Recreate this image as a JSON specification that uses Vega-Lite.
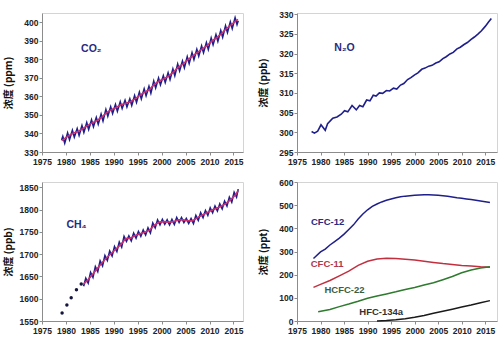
{
  "$schema": "https://vega.github.io/schema/vega-lite/v6.json",
  "background": "white",
  "padding": {"left": 2, "top": 9, "right": 0, "bottom": 0},
  "columns": 2,
  "spacing": {"row": 11, "column": 13},
  "datasets": {
    "co2_raw": [
      {"year": 1979.1, "ppm": 336.5},
      {"year": 1979.35, "ppm": 338.4}, {"year": 1979.75, "ppm": 334.8},
      {"year": 1980.35, "ppm": 340.3}, {"year": 1980.75, "ppm": 336.7},
      {"year": 1981.35, "ppm": 341.7}, {"year": 1981.75, "ppm": 338.1},
      {"year": 1982.35, "ppm": 342.6}, {"year": 1982.75, "ppm": 339.0},
      {"year": 1983.35, "ppm": 344.2}, {"year": 1983.75, "ppm": 340.6},
      {"year": 1984.35, "ppm": 345.8}, {"year": 1984.75, "ppm": 342.2},
      {"year": 1985.35, "ppm": 347.3}, {"year": 1985.75, "ppm": 343.7},
      {"year": 1986.35, "ppm": 348.6}, {"year": 1986.75, "ppm": 345.0},
      {"year": 1987.35, "ppm": 350.4}, {"year": 1987.75, "ppm": 346.8},
      {"year": 1988.35, "ppm": 352.9}, {"year": 1988.75, "ppm": 349.3},
      {"year": 1989.35, "ppm": 354.4}, {"year": 1989.75, "ppm": 350.8},
      {"year": 1990.35, "ppm": 355.6}, {"year": 1990.75, "ppm": 352.0},
      {"year": 1991.35, "ppm": 357.1}, {"year": 1991.75, "ppm": 353.5},
      {"year": 1992.35, "ppm": 357.9}, {"year": 1992.75, "ppm": 354.3},
      {"year": 1993.35, "ppm": 358.7}, {"year": 1993.75, "ppm": 355.1},
      {"year": 1994.35, "ppm": 360.4}, {"year": 1994.75, "ppm": 356.8},
      {"year": 1995.35, "ppm": 362.3}, {"year": 1995.75, "ppm": 358.7},
      {"year": 1996.35, "ppm": 364.0}, {"year": 1996.75, "ppm": 360.4},
      {"year": 1997.35, "ppm": 365.4}, {"year": 1997.75, "ppm": 361.8},
      {"year": 1998.35, "ppm": 368.2}, {"year": 1998.75, "ppm": 364.6},
      {"year": 1999.35, "ppm": 369.9}, {"year": 1999.75, "ppm": 366.3},
      {"year": 2000.35, "ppm": 371.1}, {"year": 2000.75, "ppm": 367.5},
      {"year": 2001.35, "ppm": 372.7}, {"year": 2001.75, "ppm": 369.1},
      {"year": 2002.35, "ppm": 374.8}, {"year": 2002.75, "ppm": 371.2},
      {"year": 2003.35, "ppm": 377.4}, {"year": 2003.75, "ppm": 373.8},
      {"year": 2004.35, "ppm": 379.1}, {"year": 2004.75, "ppm": 375.5},
      {"year": 2005.35, "ppm": 381.4}, {"year": 2005.75, "ppm": 377.8},
      {"year": 2006.35, "ppm": 383.5}, {"year": 2006.75, "ppm": 379.9},
      {"year": 2007.35, "ppm": 385.4}, {"year": 2007.75, "ppm": 381.8},
      {"year": 2008.35, "ppm": 387.2}, {"year": 2008.75, "ppm": 383.6},
      {"year": 2009.35, "ppm": 389.0}, {"year": 2009.75, "ppm": 385.4},
      {"year": 2010.35, "ppm": 391.5}, {"year": 2010.75, "ppm": 387.9},
      {"year": 2011.35, "ppm": 393.3}, {"year": 2011.75, "ppm": 389.7},
      {"year": 2012.35, "ppm": 395.5}, {"year": 2012.75, "ppm": 391.9},
      {"year": 2013.35, "ppm": 398.1}, {"year": 2013.75, "ppm": 394.5},
      {"year": 2014.35, "ppm": 400.2}, {"year": 2014.75, "ppm": 396.6},
      {"year": 2015.35, "ppm": 402.4}, {"year": 2015.75, "ppm": 398.8},
      {"year": 2016.0, "ppm": 400.8}
    ],
    "co2_trend": [
      {"year": 1979.1, "ppm": 336.2}, {"year": 1979.5, "ppm": 336.8}, {"year": 1980.5, "ppm": 338.7},
      {"year": 1981.5, "ppm": 340.1}, {"year": 1982.5, "ppm": 341.0}, {"year": 1983.5, "ppm": 342.6},
      {"year": 1984.5, "ppm": 344.2}, {"year": 1985.5, "ppm": 345.7}, {"year": 1986.5, "ppm": 347.0},
      {"year": 1987.5, "ppm": 348.8}, {"year": 1988.5, "ppm": 351.3}, {"year": 1989.5, "ppm": 352.8},
      {"year": 1990.5, "ppm": 354.0}, {"year": 1991.5, "ppm": 355.5}, {"year": 1992.5, "ppm": 356.3},
      {"year": 1993.5, "ppm": 357.1}, {"year": 1994.5, "ppm": 358.8}, {"year": 1995.5, "ppm": 360.7},
      {"year": 1996.5, "ppm": 362.4}, {"year": 1997.5, "ppm": 363.8}, {"year": 1998.5, "ppm": 366.6},
      {"year": 1999.5, "ppm": 368.3}, {"year": 2000.5, "ppm": 369.5}, {"year": 2001.5, "ppm": 371.1},
      {"year": 2002.5, "ppm": 373.2}, {"year": 2003.5, "ppm": 375.8}, {"year": 2004.5, "ppm": 377.5},
      {"year": 2005.5, "ppm": 379.8}, {"year": 2006.5, "ppm": 381.9}, {"year": 2007.5, "ppm": 383.8},
      {"year": 2008.5, "ppm": 385.6}, {"year": 2009.5, "ppm": 387.4}, {"year": 2010.5, "ppm": 389.9},
      {"year": 2011.5, "ppm": 391.7}, {"year": 2012.5, "ppm": 393.9}, {"year": 2013.5, "ppm": 396.5},
      {"year": 2014.5, "ppm": 398.6}, {"year": 2015.5, "ppm": 400.8}, {"year": 2015.95, "ppm": 401.6}
    ],
    "n2o": [
      {"year": 1978.1, "ppb": 300.2}, {"year": 1978.7, "ppb": 299.8}, {"year": 1979.4, "ppb": 300.3},
      {"year": 1980.1, "ppb": 301.9}, {"year": 1981.0, "ppb": 300.5}, {"year": 1981.5, "ppb": 302.2},
      {"year": 1982.6, "ppb": 303.6}, {"year": 1983.5, "ppb": 303.9}, {"year": 1984.4, "ppb": 304.6},
      {"year": 1985.1, "ppb": 305.5}, {"year": 1985.8, "ppb": 305.2}, {"year": 1986.7, "ppb": 306.8},
      {"year": 1987.6, "ppb": 305.7}, {"year": 1988.3, "ppb": 306.8}, {"year": 1989.0, "ppb": 306.5},
      {"year": 1989.8, "ppb": 308.2}, {"year": 1990.5, "ppb": 308.0}, {"year": 1991.2, "ppb": 309.4},
      {"year": 1991.8, "ppb": 309.2}, {"year": 1992.5, "ppb": 310.0}, {"year": 1993.2, "ppb": 309.9},
      {"year": 1994.0, "ppb": 310.6}, {"year": 1994.7, "ppb": 310.5}, {"year": 1995.5, "ppb": 311.2},
      {"year": 1996.2, "ppb": 311.0}, {"year": 1997.0, "ppb": 312.0}, {"year": 1997.7, "ppb": 312.4},
      {"year": 1998.5, "ppb": 313.4}, {"year": 1999.2, "ppb": 313.9}, {"year": 2000.0, "ppb": 314.6},
      {"year": 2000.7, "ppb": 315.1}, {"year": 2001.5, "ppb": 316.0}, {"year": 2002.2, "ppb": 316.3},
      {"year": 2003.0, "ppb": 316.8}, {"year": 2003.7, "ppb": 317.0}, {"year": 2004.5, "ppb": 317.6},
      {"year": 2005.2, "ppb": 317.9}, {"year": 2006.0, "ppb": 318.7}, {"year": 2006.7, "ppb": 319.2},
      {"year": 2007.5, "ppb": 319.9}, {"year": 2008.2, "ppb": 320.3}, {"year": 2009.0, "ppb": 321.2},
      {"year": 2009.7, "ppb": 321.6}, {"year": 2010.5, "ppb": 322.3}, {"year": 2011.2, "ppb": 322.8},
      {"year": 2012.0, "ppb": 323.6}, {"year": 2012.7, "ppb": 324.2}, {"year": 2013.5, "ppb": 325.0},
      {"year": 2014.2, "ppb": 325.8}, {"year": 2015.0, "ppb": 326.9}, {"year": 2015.7, "ppb": 328.0},
      {"year": 2016.3, "ppb": 328.9}
    ],
    "ch4_dots": [
      {"year": 1979.2, "ppb": 1568}, {"year": 1980.2, "ppb": 1586}, {"year": 1981.1, "ppb": 1602},
      {"year": 1982.2, "ppb": 1620}, {"year": 1983.2, "ppb": 1633}
    ],
    "ch4_raw": [
      {"year": 1983.7, "ppb": 1628},
      {"year": 1984.15, "ppb": 1646}, {"year": 1984.65, "ppb": 1635},
      {"year": 1985.15, "ppb": 1659}, {"year": 1985.65, "ppb": 1648},
      {"year": 1986.15, "ppb": 1672}, {"year": 1986.65, "ppb": 1661},
      {"year": 1987.15, "ppb": 1685}, {"year": 1987.65, "ppb": 1674},
      {"year": 1988.15, "ppb": 1697}, {"year": 1988.65, "ppb": 1686},
      {"year": 1989.15, "ppb": 1707}, {"year": 1989.65, "ppb": 1696},
      {"year": 1990.15, "ppb": 1717}, {"year": 1990.65, "ppb": 1706},
      {"year": 1991.15, "ppb": 1727}, {"year": 1991.65, "ppb": 1716},
      {"year": 1992.15, "ppb": 1740}, {"year": 1992.65, "ppb": 1729},
      {"year": 1993.15, "ppb": 1741}, {"year": 1993.65, "ppb": 1730},
      {"year": 1994.15, "ppb": 1747}, {"year": 1994.65, "ppb": 1736},
      {"year": 1995.15, "ppb": 1751}, {"year": 1995.65, "ppb": 1740},
      {"year": 1996.15, "ppb": 1754}, {"year": 1996.65, "ppb": 1743},
      {"year": 1997.15, "ppb": 1759}, {"year": 1997.65, "ppb": 1748},
      {"year": 1998.15, "ppb": 1770}, {"year": 1998.65, "ppb": 1759},
      {"year": 1999.15, "ppb": 1777}, {"year": 1999.65, "ppb": 1766},
      {"year": 2000.15, "ppb": 1778}, {"year": 2000.65, "ppb": 1767},
      {"year": 2001.15, "ppb": 1777}, {"year": 2001.65, "ppb": 1766},
      {"year": 2002.15, "ppb": 1778}, {"year": 2002.65, "ppb": 1767},
      {"year": 2003.15, "ppb": 1782}, {"year": 2003.65, "ppb": 1771},
      {"year": 2004.15, "ppb": 1782}, {"year": 2004.65, "ppb": 1771},
      {"year": 2005.15, "ppb": 1780}, {"year": 2005.65, "ppb": 1769},
      {"year": 2006.15, "ppb": 1780}, {"year": 2006.65, "ppb": 1769},
      {"year": 2007.15, "ppb": 1787}, {"year": 2007.65, "ppb": 1776},
      {"year": 2008.15, "ppb": 1793}, {"year": 2008.65, "ppb": 1782},
      {"year": 2009.15, "ppb": 1798}, {"year": 2009.65, "ppb": 1787},
      {"year": 2010.15, "ppb": 1804}, {"year": 2010.65, "ppb": 1793},
      {"year": 2011.15, "ppb": 1808}, {"year": 2011.65, "ppb": 1797},
      {"year": 2012.15, "ppb": 1813}, {"year": 2012.65, "ppb": 1802},
      {"year": 2013.15, "ppb": 1819}, {"year": 2013.65, "ppb": 1808},
      {"year": 2014.15, "ppb": 1828}, {"year": 2014.65, "ppb": 1817},
      {"year": 2015.15, "ppb": 1839}, {"year": 2015.65, "ppb": 1828},
      {"year": 2016.0, "ppb": 1846}
    ],
    "ch4_trend": [
      {"year": 1983.7, "ppb": 1633}, {"year": 1984.5, "ppb": 1641}, {"year": 1985.5, "ppb": 1654},
      {"year": 1986.5, "ppb": 1667}, {"year": 1987.5, "ppb": 1680}, {"year": 1988.5, "ppb": 1692},
      {"year": 1989.5, "ppb": 1702}, {"year": 1990.5, "ppb": 1712}, {"year": 1991.5, "ppb": 1722},
      {"year": 1992.5, "ppb": 1735}, {"year": 1993.5, "ppb": 1736}, {"year": 1994.5, "ppb": 1742},
      {"year": 1995.5, "ppb": 1746}, {"year": 1996.5, "ppb": 1749}, {"year": 1997.5, "ppb": 1754},
      {"year": 1998.5, "ppb": 1765}, {"year": 1999.5, "ppb": 1772}, {"year": 2000.5, "ppb": 1773},
      {"year": 2001.5, "ppb": 1772}, {"year": 2002.5, "ppb": 1773}, {"year": 2003.5, "ppb": 1777},
      {"year": 2004.5, "ppb": 1777}, {"year": 2005.5, "ppb": 1775}, {"year": 2006.5, "ppb": 1775},
      {"year": 2007.5, "ppb": 1782}, {"year": 2008.5, "ppb": 1788}, {"year": 2009.5, "ppb": 1793},
      {"year": 2010.5, "ppb": 1799}, {"year": 2011.5, "ppb": 1803}, {"year": 2012.5, "ppb": 1808},
      {"year": 2013.5, "ppb": 1814}, {"year": 2014.5, "ppb": 1823}, {"year": 2015.5, "ppb": 1834},
      {"year": 2016.0, "ppb": 1843}
    ],
    "halo": [
      {"gas": "CFC-12", "year": 1978.5, "ppt": 270}, {"gas": "CFC-12", "year": 1980, "ppt": 298},
      {"gas": "CFC-12", "year": 1981, "ppt": 310}, {"gas": "CFC-12", "year": 1982, "ppt": 328},
      {"gas": "CFC-12", "year": 1983, "ppt": 343}, {"gas": "CFC-12", "year": 1984, "ppt": 358},
      {"gas": "CFC-12", "year": 1985, "ppt": 375}, {"gas": "CFC-12", "year": 1986, "ppt": 395},
      {"gas": "CFC-12", "year": 1987, "ppt": 415}, {"gas": "CFC-12", "year": 1988, "ppt": 440},
      {"gas": "CFC-12", "year": 1989, "ppt": 462}, {"gas": "CFC-12", "year": 1990, "ppt": 480},
      {"gas": "CFC-12", "year": 1991, "ppt": 495}, {"gas": "CFC-12", "year": 1992, "ppt": 505},
      {"gas": "CFC-12", "year": 1993, "ppt": 514}, {"gas": "CFC-12", "year": 1994, "ppt": 521},
      {"gas": "CFC-12", "year": 1995, "ppt": 527}, {"gas": "CFC-12", "year": 1996, "ppt": 532},
      {"gas": "CFC-12", "year": 1997, "ppt": 536}, {"gas": "CFC-12", "year": 1998, "ppt": 539},
      {"gas": "CFC-12", "year": 1999, "ppt": 541}, {"gas": "CFC-12", "year": 2000, "ppt": 543},
      {"gas": "CFC-12", "year": 2001, "ppt": 544}, {"gas": "CFC-12", "year": 2002, "ppt": 545},
      {"gas": "CFC-12", "year": 2003, "ppt": 545}, {"gas": "CFC-12", "year": 2004, "ppt": 544},
      {"gas": "CFC-12", "year": 2005, "ppt": 543}, {"gas": "CFC-12", "year": 2006, "ppt": 541},
      {"gas": "CFC-12", "year": 2007, "ppt": 538}, {"gas": "CFC-12", "year": 2008, "ppt": 535},
      {"gas": "CFC-12", "year": 2009, "ppt": 532}, {"gas": "CFC-12", "year": 2010, "ppt": 530},
      {"gas": "CFC-12", "year": 2011, "ppt": 527}, {"gas": "CFC-12", "year": 2012, "ppt": 524},
      {"gas": "CFC-12", "year": 2013, "ppt": 521}, {"gas": "CFC-12", "year": 2014, "ppt": 518},
      {"gas": "CFC-12", "year": 2015, "ppt": 515}, {"gas": "CFC-12", "year": 2016, "ppt": 512},
      {"gas": "CFC-11", "year": 1978.5, "ppt": 145}, {"gas": "CFC-11", "year": 1980, "ppt": 158},
      {"gas": "CFC-11", "year": 1982, "ppt": 175}, {"gas": "CFC-11", "year": 1984, "ppt": 195},
      {"gas": "CFC-11", "year": 1986, "ppt": 215}, {"gas": "CFC-11", "year": 1988, "ppt": 240},
      {"gas": "CFC-11", "year": 1990, "ppt": 258}, {"gas": "CFC-11", "year": 1992, "ppt": 268},
      {"gas": "CFC-11", "year": 1994, "ppt": 271}, {"gas": "CFC-11", "year": 1996, "ppt": 270},
      {"gas": "CFC-11", "year": 1998, "ppt": 267}, {"gas": "CFC-11", "year": 2000, "ppt": 263},
      {"gas": "CFC-11", "year": 2002, "ppt": 258}, {"gas": "CFC-11", "year": 2004, "ppt": 253},
      {"gas": "CFC-11", "year": 2006, "ppt": 248}, {"gas": "CFC-11", "year": 2008, "ppt": 244},
      {"gas": "CFC-11", "year": 2010, "ppt": 240}, {"gas": "CFC-11", "year": 2012, "ppt": 237},
      {"gas": "CFC-11", "year": 2014, "ppt": 234}, {"gas": "CFC-11", "year": 2016, "ppt": 232},
      {"gas": "HCFC-22", "year": 1979.5, "ppt": 40}, {"gas": "HCFC-22", "year": 1982, "ppt": 50},
      {"gas": "HCFC-22", "year": 1984, "ppt": 62}, {"gas": "HCFC-22", "year": 1986, "ppt": 73},
      {"gas": "HCFC-22", "year": 1988, "ppt": 85}, {"gas": "HCFC-22", "year": 1990, "ppt": 98},
      {"gas": "HCFC-22", "year": 1992, "ppt": 108}, {"gas": "HCFC-22", "year": 1994, "ppt": 117},
      {"gas": "HCFC-22", "year": 1996, "ppt": 126}, {"gas": "HCFC-22", "year": 1998, "ppt": 136},
      {"gas": "HCFC-22", "year": 2000, "ppt": 145}, {"gas": "HCFC-22", "year": 2002, "ppt": 155},
      {"gas": "HCFC-22", "year": 2004, "ppt": 165}, {"gas": "HCFC-22", "year": 2006, "ppt": 178},
      {"gas": "HCFC-22", "year": 2008, "ppt": 192}, {"gas": "HCFC-22", "year": 2010, "ppt": 208},
      {"gas": "HCFC-22", "year": 2012, "ppt": 220}, {"gas": "HCFC-22", "year": 2014, "ppt": 229},
      {"gas": "HCFC-22", "year": 2016, "ppt": 234},
      {"gas": "HFC-134a", "year": 1992, "ppt": 0}, {"gas": "HFC-134a", "year": 1994, "ppt": 2},
      {"gas": "HFC-134a", "year": 1996, "ppt": 5}, {"gas": "HFC-134a", "year": 1998, "ppt": 10},
      {"gas": "HFC-134a", "year": 2000, "ppt": 16}, {"gas": "HFC-134a", "year": 2002, "ppt": 24},
      {"gas": "HFC-134a", "year": 2004, "ppt": 33}, {"gas": "HFC-134a", "year": 2006, "ppt": 42},
      {"gas": "HFC-134a", "year": 2008, "ppt": 51}, {"gas": "HFC-134a", "year": 2010, "ppt": 60},
      {"gas": "HFC-134a", "year": 2012, "ppt": 69}, {"gas": "HFC-134a", "year": 2014, "ppt": 79},
      {"gas": "HFC-134a", "year": 2016, "ppt": 88}
    ],
    "halo_labels": [
      {"gas": "CFC-12", "year": 1981.5, "ppt": 429},
      {"gas": "CFC-11", "year": 1981.4, "ppt": 245},
      {"gas": "HCFC-22", "year": 1985.1, "ppt": 135},
      {"gas": "HFC-134a", "year": 1992.9, "ppt": 40}
    ]
  },
  "concat": [
    {
      "width": 201, "height": 139,
      "layer": [
        {
          "data": {"name": "co2_raw"},
          "mark": {"type": "line", "color": "#1f1f8c", "strokeWidth": 1.6},
          "encoding": {
            "x": {"field": "year", "type": "quantitative", "scale": {"domain": [1975, 2017], "nice": false}, "axis": {"values": [1975, 1980, 1985, 1990, 1995, 2000, 2005, 2010, 2015], "format": "d", "title": null}},
            "y": {"field": "ppm", "type": "quantitative", "scale": {"domain": [330, 405], "nice": false, "zero": false}, "axis": {"values": [330, 340, 350, 360, 370, 380, 390, 400], "format": "d", "title": "浓度 (ppm)"}}
          }
        },
        {
          "data": {"name": "co2_trend"},
          "mark": {"type": "line", "color": "#cc2f6e", "strokeWidth": 1.6},
          "encoding": {
            "x": {"field": "year", "type": "quantitative"},
            "y": {"field": "ppm", "type": "quantitative"}
          }
        },
        {
          "data": {"values": [{"label": "CO₂", "year": 1985.3, "ppm": 385.4}]},
          "mark": {"type": "text", "color": "#2a2a80", "fontSize": 10.5, "fontWeight": "bold", "font": "Liberation Sans"},
          "encoding": {
            "x": {"field": "year", "type": "quantitative"},
            "y": {"field": "ppm", "type": "quantitative"},
            "text": {"field": "label"}
          }
        }
      ]
    },
    {
      "width": 200, "height": 139,
      "layer": [
        {
          "data": {"name": "n2o"},
          "mark": {"type": "line", "color": "#1f1f8c", "strokeWidth": 1.6},
          "encoding": {
            "x": {"field": "year", "type": "quantitative", "scale": {"domain": [1975, 2017.5], "nice": false}, "axis": {"values": [1975, 1980, 1985, 1990, 1995, 2000, 2005, 2010, 2015], "format": "d", "title": null}},
            "y": {"field": "ppb", "type": "quantitative", "scale": {"domain": [295, 330.3], "nice": false, "zero": false}, "axis": {"values": [295, 300, 305, 310, 315, 320, 325, 330], "format": "d", "title": "浓度 (ppb)"}}
          }
        },
        {
          "data": {"values": [{"label": "N₂O", "year": 1985.1, "ppb": 321.5}]},
          "mark": {"type": "text", "color": "#2a2a80", "fontSize": 10.5, "fontWeight": "bold", "font": "Liberation Sans"},
          "encoding": {
            "x": {"field": "year", "type": "quantitative"},
            "y": {"field": "ppb", "type": "quantitative"},
            "text": {"field": "label"}
          }
        }
      ]
    },
    {
      "width": 201, "height": 139,
      "layer": [
        {
          "data": {"name": "ch4_raw"},
          "mark": {"type": "line", "color": "#1f1f8c", "strokeWidth": 1.6},
          "encoding": {
            "x": {"field": "year", "type": "quantitative", "scale": {"domain": [1975, 2017], "nice": false}, "axis": {"values": [1975, 1980, 1985, 1990, 1995, 2000, 2005, 2010, 2015], "format": "d", "title": null}},
            "y": {"field": "ppb", "type": "quantitative", "scale": {"domain": [1550, 1862], "nice": false, "zero": false}, "axis": {"values": [1550, 1600, 1650, 1700, 1750, 1800, 1850], "format": "d", "title": "浓度 (ppb)"}}
          }
        },
        {
          "data": {"name": "ch4_trend"},
          "mark": {"type": "line", "color": "#cc2f6e", "strokeWidth": 1.6},
          "encoding": {
            "x": {"field": "year", "type": "quantitative"},
            "y": {"field": "ppb", "type": "quantitative"}
          }
        },
        {
          "data": {"name": "ch4_dots"},
          "mark": {"type": "circle", "color": "#14143c", "size": 12, "opacity": 1},
          "encoding": {
            "x": {"field": "year", "type": "quantitative"},
            "y": {"field": "ppb", "type": "quantitative"}
          }
        },
        {
          "data": {"values": [{"label": "CH₄", "year": 1982.2, "ppb": 1766}]},
          "mark": {"type": "text", "color": "#2a2a80", "fontSize": 10.5, "fontWeight": "bold", "font": "Liberation Sans"},
          "encoding": {
            "x": {"field": "year", "type": "quantitative"},
            "y": {"field": "ppb", "type": "quantitative"},
            "text": {"field": "label"}
          }
        }
      ]
    },
    {
      "width": 200, "height": 139,
      "layer": [
        {
          "data": {"name": "halo"},
          "mark": {"type": "line", "strokeWidth": 1.5},
          "encoding": {
            "x": {"field": "year", "type": "quantitative", "scale": {"domain": [1975, 2017.5], "nice": false}, "axis": {"values": [1975, 1980, 1985, 1990, 1995, 2000, 2005, 2010, 2015], "format": "d", "title": null}},
            "y": {"field": "ppt", "type": "quantitative", "scale": {"domain": [0, 600], "nice": false}, "axis": {"values": [0, 100, 200, 300, 400, 500, 600], "format": "d", "title": "浓度 (ppt)"}},
            "color": {"field": "gas", "type": "nominal", "scale": {"domain": ["CFC-12", "CFC-11", "HCFC-22", "HFC-134a"], "range": ["#1f1f8c", "#c23040", "#2e7a2e", "#1a1a1a"]}, "legend": null}
          }
        },
        {
          "data": {"name": "halo_labels"},
          "mark": {"type": "text", "fontSize": 9.5, "fontWeight": "bold", "font": "Liberation Sans"},
          "encoding": {
            "x": {"field": "year", "type": "quantitative"},
            "y": {"field": "ppt", "type": "quantitative"},
            "text": {"field": "gas"},
            "color": {"field": "gas", "type": "nominal", "scale": {"domain": ["CFC-12", "CFC-11", "HCFC-22", "HFC-134a"], "range": ["#2a2a80", "#b03848", "#3d5e3d", "#333333"]}, "legend": null}
          }
        }
      ],
      "resolve": {"scale": {"color": "independent"}}
    }
  ],
  "config": {
    "view": {"stroke": "#d4d4d4", "strokeWidth": 1},
    "axis": {
      "grid": false,
      "domainColor": "#8c8c8c",
      "tickColor": "#8c8c8c",
      "tickSize": 3,
      "tickCount": 20,
      "labelOverlap": false,
      "labelFlush": false,
      "labelFont": "Liberation Sans",
      "labelFontSize": 8.5,
      "labelFontWeight": "bold",
      "labelColor": "#222222",
      "titleFont": "Noto Sans CJK SC",
      "titleFontSize": 10,
      "titleFontWeight": "bold",
      "titleColor": "#111111"
    },
    "axisY": {"labelPadding": 1, "minExtent": 27, "maxExtent": 27, "titlePadding": 2},
    "axisX": {"labelPadding": 2}
  }
}
